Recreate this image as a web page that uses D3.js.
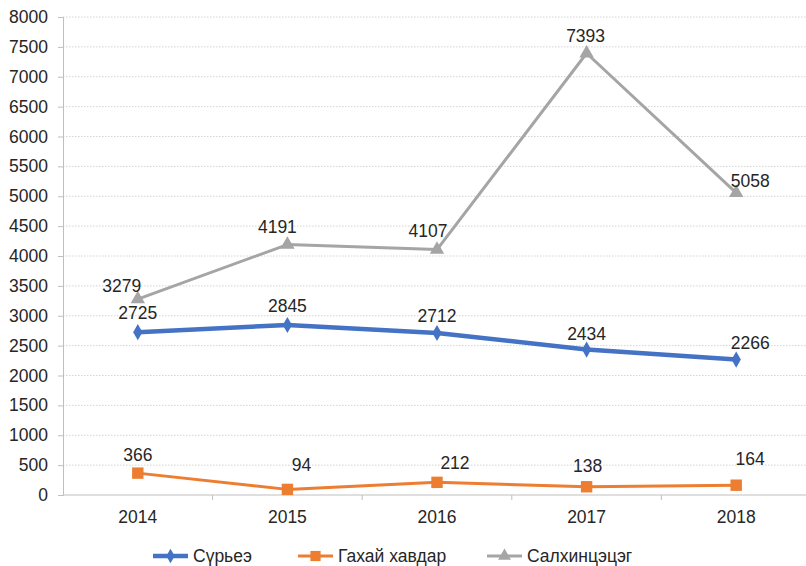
<!DOCTYPE html>
<html>
<head>
<meta charset="utf-8">
<script src="https://cdn.jsdelivr.net/npm/d3@7"></script>
<style>
  body { margin: 0; background: #fff; }
  text { font-family: "Liberation Sans", Arial, sans-serif; fill: #262626; }
</style>
</head>
<body>
<svg id="chart" width="806" height="566"></svg>
<script>
// data
var years = ["2014", "2015", "2016", "2017", "2018"];
var suryeez = [2725, 2845, 2712, 2434, 2266];
var gakhai = [366, 94, 212, 138, 164];
var salkhi = [3279, 4191, 4107, 7393, 5058];
var yTicks = d3.range(0, 8001, 500);

// label nudges (dx, dy) per point, like the hand-moved labels in the original
var suryeezLbl = [[0, -19], [0, -19], [0, -17], [0, -16], [14, -17]];
var gakhaiLbl = [[0, -18], [14, -25], [18, -19], [1, -21], [14, -26]];
var salkhiLbl = [[-16, -13], [-10, -18], [-9, -19], [-1, -17], [14, -12]];

var series = [
  {name: "Сүрьеэ", values: suryeez, color: "#4472C4", width: 4.5, symbol: d3.symbolDiamond, size: 75, lbl: suryeezLbl},
  {name: "Гахай хавдар", values: gakhai, color: "#ED7D31", width: 3, symbol: d3.symbolSquare, size: 130, lbl: gakhaiLbl},
  {name: "Салхинцэцэг", values: salkhi, color: "#A5A5A5", width: 3, symbol: d3.symbolTriangle, size: 90, lbl: salkhiLbl}
];

var fontSize = "17.5px";
var margin = {top: 17, left: 63, bottom: 71, right: -5};
var width = 806 - margin.left - margin.right;
var height = 566 - margin.top - margin.bottom;

var svg = d3.select("#chart");
var inner = svg.append("g")
  .attr("transform", "translate(" + margin.left + "," + margin.top + ")");

var x = d3.scaleBand().domain(years).range([0, width]);
var y = d3.scaleLinear().domain([0, 8000]).range([height, 0]);

// gridlines
inner.append("g").selectAll("line")
  .data(yTicks.filter(function(d) { return d > 0; }))
  .enter().append("line")
  .attr("x1", 0).attr("x2", width)
  .attr("y1", function(d) { return y(d); })
  .attr("y2", function(d) { return y(d); })
  .style("stroke", "#d4d4d4")
  .style("stroke-dasharray", "1.5,1.5");

// y axis
var yAxis = d3.axisLeft(y).tickValues(yTicks).tickFormat(d3.format("d")).tickSize(5).tickPadding(10);
var gy = inner.append("g").call(yAxis);
gy.select(".domain").style("stroke", "#bfbfbf");
gy.selectAll(".tick line").style("stroke", "#bfbfbf");
gy.selectAll("text").style("font-size", fontSize).style("fill", "#262626")
  .style("font-family", "'Liberation Sans', Arial, sans-serif");

// x axis, ticks between categories
var gx = inner.append("g").attr("transform", "translate(0," + height + ")");
gx.append("line").attr("x1", 0).attr("x2", width).style("stroke", "#bfbfbf");
gx.selectAll(".xt")
  .data(years.slice(1))
  .enter().append("line")
  .attr("x1", function(d) { return x(d); })
  .attr("x2", function(d) { return x(d); })
  .attr("y1", 0).attr("y2", 5)
  .style("stroke", "#bfbfbf");
gx.selectAll(".xl")
  .data(years)
  .enter().append("text")
  .attr("x", function(d) { return x(d) + x.bandwidth() / 2; })
  .attr("y", 22)
  .attr("dy", "0.35em")
  .attr("text-anchor", "middle")
  .style("font-size", fontSize)
  .text(function(d) { return d; });

// lines
var line = d3.line()
  .x(function(d, i) { return x(years[i]) + x.bandwidth() / 2; })
  .y(function(d) { return y(d); });

series.forEach(function(s) {
  var g = inner.append("g");
  g.append("path")
    .datum(s.values)
    .attr("d", line)
    .style("fill", "none")
    .style("stroke", s.color)
    .style("stroke-width", s.width)
    .style("stroke-linejoin", "round");
  g.selectAll(".pt")
    .data(s.values)
    .enter().append("path")
    .attr("d", d3.symbol().type(s.symbol).size(s.size))
    .attr("transform", function(d, i) {
      return "translate(" + (x(years[i]) + x.bandwidth() / 2) + "," + y(d) + ")";
    })
    .style("fill", s.color);
  g.selectAll(".lbl")
    .data(s.values)
    .enter().append("text")
    .attr("x", function(d, i) { return x(years[i]) + x.bandwidth() / 2 + s.lbl[i][0]; })
    .attr("y", function(d, i) { return y(d) + s.lbl[i][1]; })
    .attr("dy", "0.35em")
    .attr("text-anchor", "middle")
    .style("font-size", fontSize)
    .text(function(d) { return d; });
});

// legend
var legendX = [153, 298, 487];
var legend = svg.append("g").attr("transform", "translate(0,556)");
series.forEach(function(s, i) {
  var lg = legend.append("g").attr("transform", "translate(" + legendX[i] + ",0)");
  lg.append("line").attr("x1", 0).attr("x2", 35)
    .style("stroke", s.color).style("stroke-width", s.width);
  lg.append("path")
    .attr("d", d3.symbol().type(s.symbol).size(s.size * 0.8))
    .attr("transform", "translate(17.5,0)")
    .style("fill", s.color);
  lg.append("text").attr("x", 40).attr("dy", "0.35em")
    .style("font-size", fontSize)
    .text(s.name);
});
</script>
</body>
</html>
